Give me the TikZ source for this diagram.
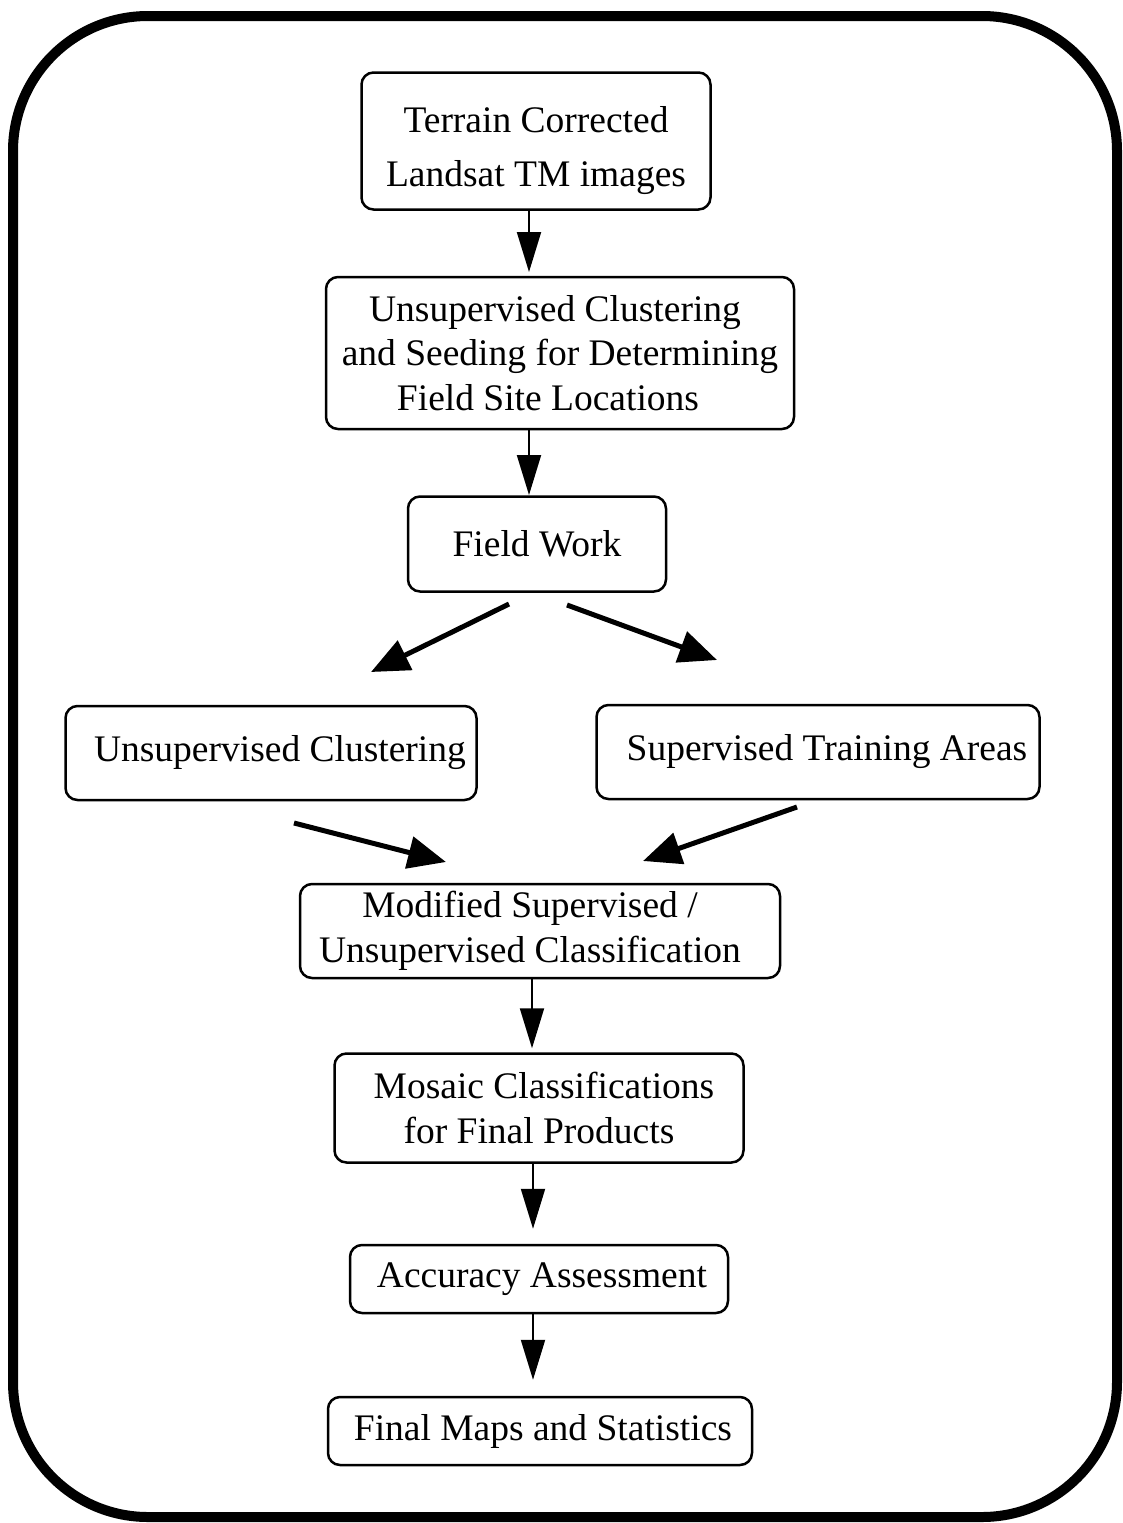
\documentclass[tikz,border=0pt]{standalone}
\usepackage{fontspec}
\setmainfont{Liberation Serif}
\usetikzlibrary{arrows.meta}
\begin{document}
\begin{tikzpicture}[x=1pt,y=-1pt,
  box/.style={draw=black,line width=2.5pt,rounded corners=12pt,inner sep=0pt,align=center,font=\fontsize{37.5}{44.5}\selectfont},
  varrow/.style={line width=2pt,-{Triangle[length=40pt,width=24pt]}},
  darrow/.style={line width=5pt,-{Triangle[length=38pt,width=32pt]}}]
\useasboundingbox (0,0) rectangle (1122,1523);
\draw[line width=10pt,rounded corners=135pt] (13,16) rectangle (1117,1517);
\node[box,minimum width=349pt,minimum height=137pt,font=\fontsize{37.5}{54}\selectfont] (tc) at (536,141) {\rule{0pt}{46pt}Terrain Corrected\\Landsat TM images};
\node[box,minimum width=468pt,minimum height=152pt] (us) at (560,353) {Unsupervised Clustering\hspace*{10pt}\\and Seeding for Determining\\Field Site Locations\hspace*{24pt}};
\node[box,minimum width=258pt,minimum height=95pt] (fw) at (537,544) {Field Work};
\node[box,minimum width=411pt,minimum height=94pt] (uc) at (271,753) {\hspace*{18pt}Unsupervised Clustering};
\node[box,minimum width=443pt,minimum height=94pt] (st) at (818,752) {\hspace*{18pt}Supervised Training Areas};
\node[box,minimum width=480pt,minimum height=94pt] (mod) at (540,931) {Modified Supervised /\hspace*{20pt}\\Unsupervised Classification\hspace*{20pt}};
\node[box,minimum width=409pt,minimum height=109pt] (mos) at (539,1108) {\hspace*{10pt}Mosaic Classifications\\for Final Products};
\node[box,minimum width=378pt,minimum height=68pt] (acc) at (539,1279) {\hspace*{6pt}Accuracy Assessment};
\node[box,minimum width=424pt,minimum height=68pt] (fin) at (540,1431) {\hspace*{6pt}Final Maps and Statistics};
\coordinate (a3s) at (509,604); \coordinate (a3e) at (371,672);
\coordinate (a4s) at (567,605); \coordinate (a4e) at (717,660);
\coordinate (a5s) at (294,823); \coordinate (a5e) at (446,862);
\coordinate (a6s) at (797,807); \coordinate (a6e) at (643,861);
\draw[varrow] (tc.south -| 529,0) -- (529,272);
\draw[varrow] (us.south -| 529,0) -- (529,495);
\draw[darrow] (a3s) -- (a3e);
\draw[darrow] (a4s) -- (a4e);
\draw[darrow] (a5s) -- (a5e);
\draw[darrow] (a6s) -- (a6e);
\draw[varrow] (mod.south -| 532,0) -- ([yshift=4pt]mos.north -| 532,0);
\draw[varrow] (mos.south -| 533,0) -- ([yshift=15pt]acc.north -| 533,0);
\draw[varrow] (acc.south -| 533,0) -- ([yshift=16pt]fin.north -| 533,0);
\end{tikzpicture}
\end{document}
